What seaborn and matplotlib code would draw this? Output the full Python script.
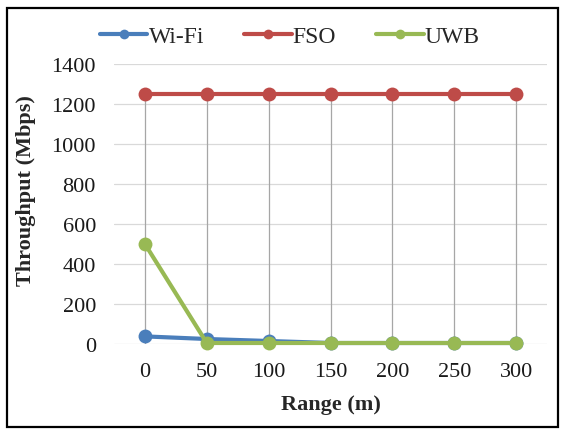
import numpy as np
import pandas as pd
import seaborn as sns
import matplotlib.pyplot as plt
from matplotlib.patches import Rectangle

ranges = [0, 50, 100, 150, 200, 250, 300]
wifi = [38, 25, 15, 5, 5, 5, 5]
fso = [1250, 1250, 1250, 1250, 1250, 1250, 1250]
uwb = [500, 5, 5, 5, 5, 5, 5]
series_names = ['Wi-Fi', 'FSO', 'UWB']
colors = ['#4a7ebb', '#be4b48', '#98b954']

df = pd.DataFrame({'Range': ranges * 3,
                   'Throughput': wifi + fso + uwb,
                   'Series': [s for s in series_names for _ in ranges]})

sns.set_theme(style='white')
plt.rcParams['font.family'] = ['Liberation Serif', 'DejaVu Serif']

W, H = 563, 435
fig = plt.figure(figsize=(W / 100, H / 100), dpi=100)
ax = fig.add_axes([114 / W, 1 - 345 / H, 433 / W, 280 / H])

# drop lines from top series to the axis
ax.vlines(ranges, 0, fso, color='#a6a6a6', lw=0.9, zorder=1)

sns.lineplot(data=df, x='Range', y='Throughput', hue='Series', palette=colors,
             marker='o', markersize=10, markeredgewidth=0, linewidth=3,
             ax=ax, zorder=3, clip_on=False)

ax.set_xlim(-25, 325)
ax.set_ylim(0, 1400)
ax.set_xticks(ranges)
ax.set_yticks(range(0, 1401, 200))
ax.yaxis.grid(True, color='#d9d9d9', lw=0.9)
ax.set_axisbelow(True)
for s in ax.spines.values():
    s.set_visible(False)
ax.tick_params(axis='both', length=0, labelsize=16, colors='#1a1a1a')
ax.tick_params(axis='x', pad=13)
ax.tick_params(axis='y', pad=13)
ax.set_xlabel('Range (m)', fontsize=16, fontweight='bold', labelpad=9)
ax.set_ylabel('Throughput (Mbps)', fontsize=16, fontweight='bold')
ax.yaxis.set_label_coords((36 - 114) / 433, 0.55)

handles, labels = ax.get_legend_handles_labels()
ax.get_legend().remove()
for h in handles:
    h.set_markersize(7)
fig.legend(handles, labels, loc='center', bbox_to_anchor=(290 / W, 1 - 37 / H),
           ncol=3, frameon=False, fontsize=17, handlelength=2.0,
           handletextpad=0.05, columnspacing=1.7, borderaxespad=0)

fig.patches.append(Rectangle((7 / W, 1 - 428 / H), 551 / W, 419 / H,
                             transform=fig.transFigure, fill=False,
                             edgecolor='black', lw=1.6))

fig.savefig('out.png', dpi=100)
